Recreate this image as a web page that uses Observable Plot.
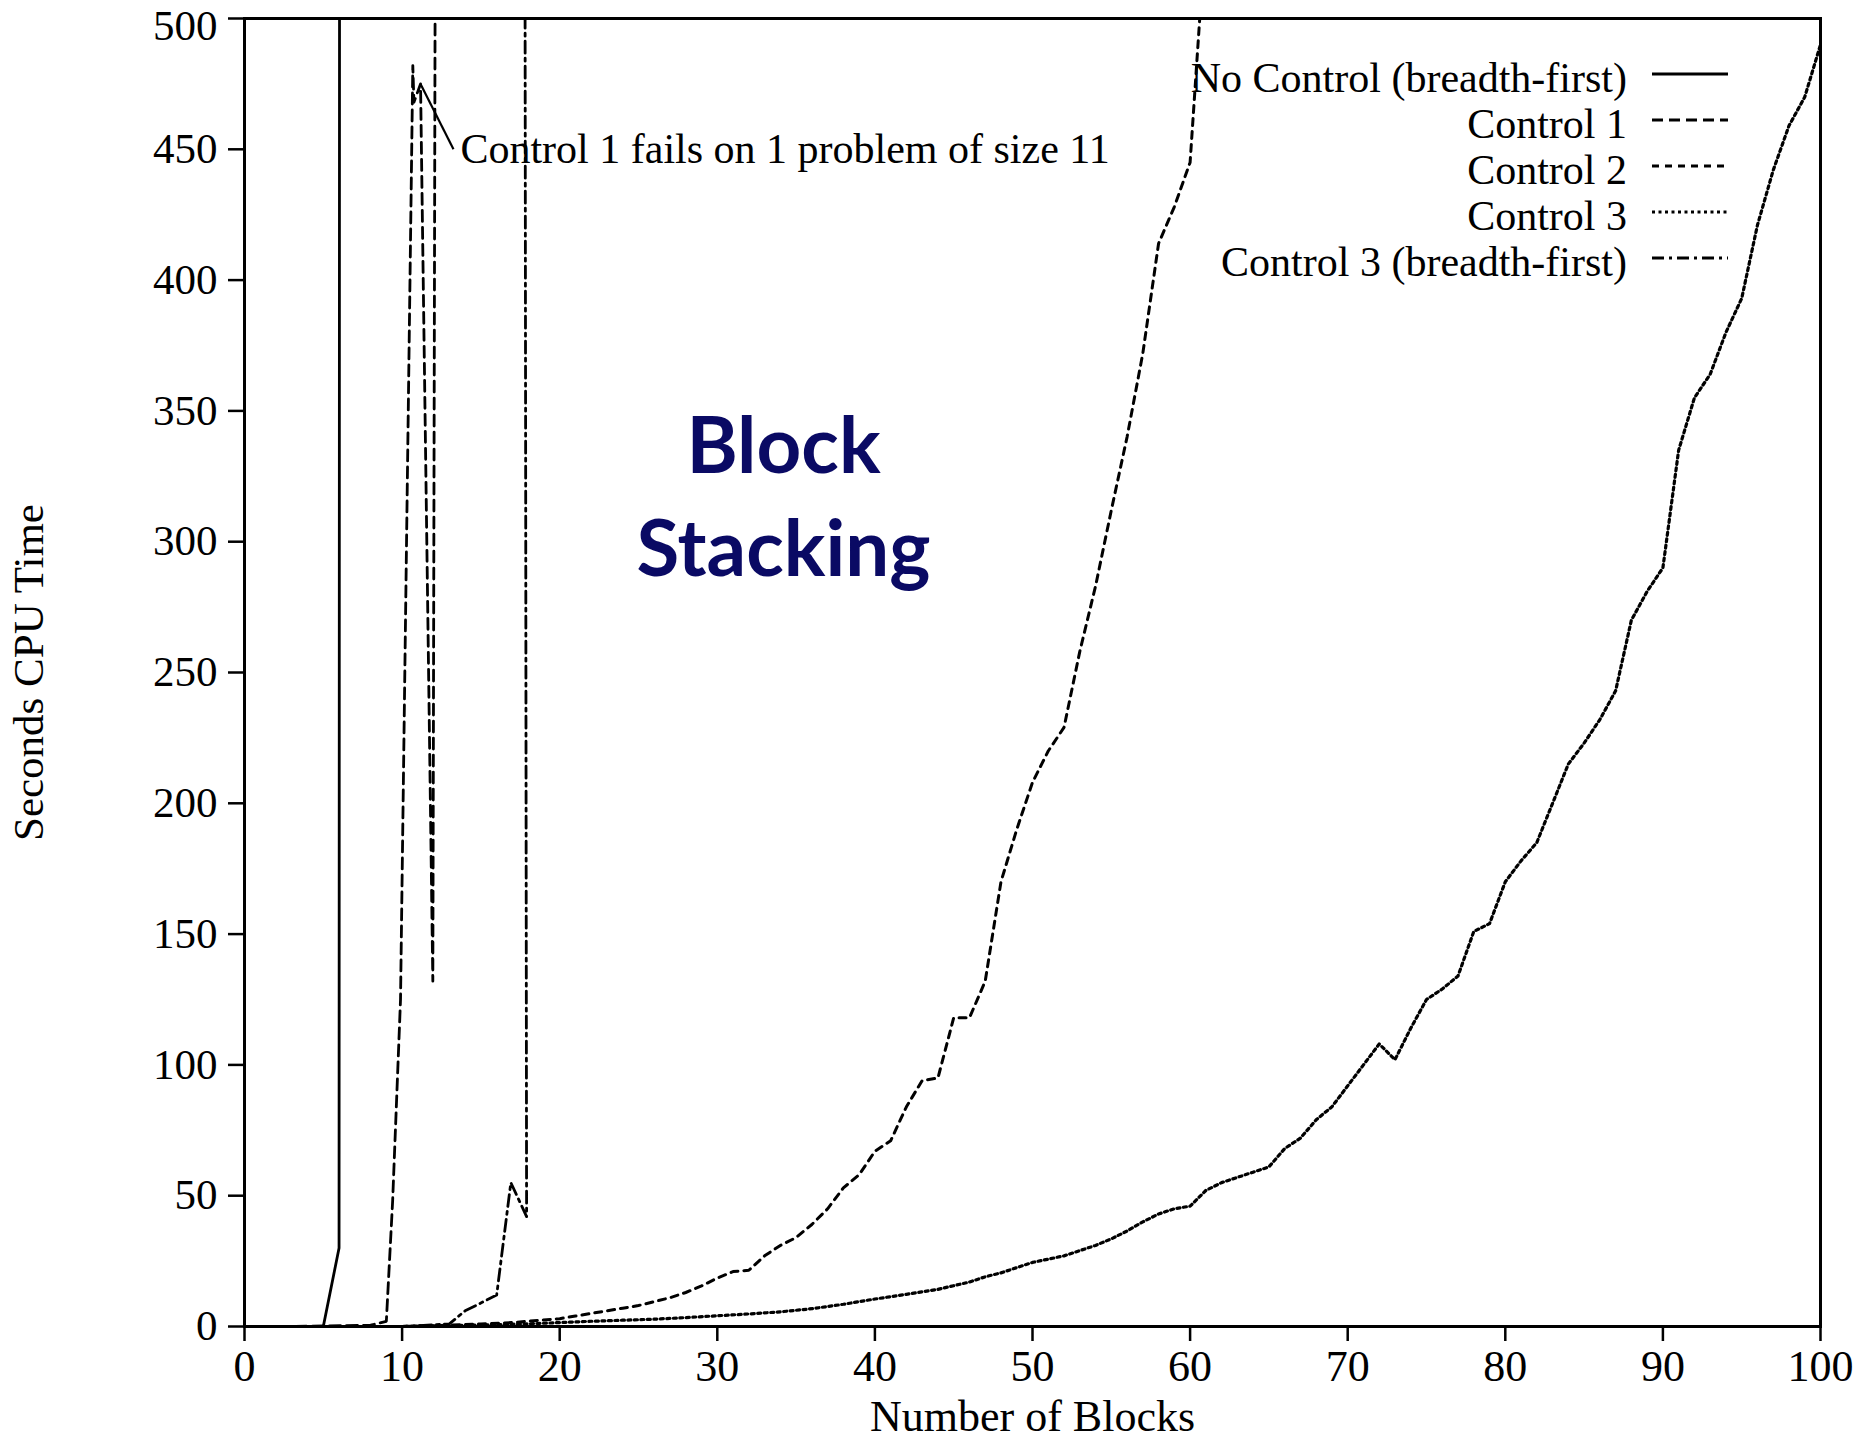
<!DOCTYPE html>
<html>
<head>
<meta charset="utf-8">
<script src="https://cdn.jsdelivr.net/npm/d3@7"></script>
<script src="https://cdn.jsdelivr.net/npm/@observablehq/plot@0.6"></script>
<style>
  body { margin: 0; background: #fff; }
  #chart { position: relative; width: 1863px; height: 1440px; }
  #legend { position: absolute; left: 0; top: 0; pointer-events: none; }
</style>
</head>
<body>
<div id="chart"></div>
<script>
// ---------- data ----------
const seriesNames = [
  "No Control (breadth-first)",
  "Control 1",
  "Control 2",
  "Control 3",
  "Control 3 (breadth-first)"
];

const noControlBlocks = [0, 1, 2, 3, 4, 5, 6, 6.03];
const noControlTime   = [0, 0, 0, 0, 0, 0, 30, 520];

const control1Blocks = [0, 3, 8, 9, 9.4, 9.9, 10.4, 10.68, 10.75, 11.17, 11.95, 12.1];
const control1Time   = [0, 0, 0.5, 2, 48, 125, 354, 482, 468, 475, 132, 520];

const control2Blocks = [0, 10, 13, 15, 17, 18, 20, 21, 22, 23, 24, 25, 26, 27, 28, 29, 30,
  31, 32, 33, 34, 35, 36, 37, 38, 39, 40, 41, 42, 43, 44, 45, 46, 47, 48, 49, 50,
  51, 52, 53, 54, 55, 56, 57, 58, 59, 60, 61];
const control2Time   = [0, 0, 0.5, 1, 1.5, 2, 3, 4, 5, 6, 7, 8, 9.5, 11, 13, 15.5, 18.5,
  21, 21.5, 27, 31, 34, 39, 45, 53, 58, 67, 71, 84, 94, 95, 118, 118, 132, 170, 190, 208,
  220, 229, 258, 283, 312, 340, 372, 414, 428, 445, 535];

const control3Blocks = [0, 10, 13, 15, 18, 20, 22, 24, 26, 28, 30, 32, 34, 36, 38, 40, 42,
  44, 46, 47, 48, 50, 52, 54, 55, 56, 57, 58, 59, 60, 61, 62, 63, 64, 65, 66, 67, 68, 69,
  70, 71, 72, 73, 74, 75, 76, 77, 78, 79, 80, 81, 82, 83, 84, 85, 86, 87, 88, 89, 90, 91,
  92, 93, 94, 95, 96, 97, 98, 99, 100];
const control3Time   = [0, 0, 0.3, 0.6, 1, 1.5, 2, 2.4, 2.8, 3.4, 4.1, 4.8, 5.6, 6.8, 8.5,
  10.5, 12.3, 14.2, 17, 19, 20.5, 24.5, 27, 31, 33.5, 36.5, 40, 43, 45, 46, 52, 55, 57, 59,
  61, 68, 72, 79, 84, 92, 100, 108, 102, 114, 125, 129, 134, 151, 154, 170, 178, 185, 200,
  215, 223, 232, 243, 270, 281, 290, 335, 355, 364, 380, 393, 421, 442, 459, 470, 490];

const control3bfBlocks = [0, 5, 10, 13, 14, 16, 16.9, 17.9, 17.8];
const control3bfTime   = [0, 0, 0, 1, 6, 12, 55, 42, 520];

const xTicks = [0, 10, 20, 30, 40, 50, 60, 70, 80, 90, 100];
const yTicks = [0, 50, 100, 150, 200, 250, 300, 350, 400, 450, 500];

const annotationText = "Control 1 fails on 1 problem of size 11";
const overlayTitle = "Block\nStacking";

// ---------- build tables ----------
const blocksList = [noControlBlocks, control1Blocks, control2Blocks, control3Blocks, control3bfBlocks];
const timesList  = [noControlTime, control1Time, control2Time, control3Time, control3bfTime];
const dashes = [null, "11,6", "7,6", "3,3.5", "12,5,3,5"];
const widths = [2.8, 2.8, 3, 3.2, 2.8];

const tables = seriesNames.map((name, i) =>
  blocksList[i].map((b, j) => ({series: name, blocks: b, time: timesList[i][j]}))
);

const serif = "'Liberation Serif', 'DejaVu Serif', serif";
const yMax = yTicks[yTicks.length - 1];

const lineMarks = tables.map((t, i) =>
  Plot.line(t, {
    x: "blocks", y: "time", stroke: "black", strokeWidth: widths[i],
    strokeDasharray: dashes[i] || undefined, clip: true
  })
);

const chart = Plot.plot({
  width: 1863,
  height: 1440,
  marginLeft: 244,
  marginRight: 43,
  marginTop: 18,
  marginBottom: 114,
  style: {fontFamily: serif, background: "white", color: "black"},
  x: {domain: [0, 100]},
  y: {domain: [0, 500]},
  marks: [
    Plot.axisX({ticks: xTicks, tickSize: 15, tickPadding: 8, fontSize: 44, strokeWidth: 2.5,
      label: "Number of Blocks", labelAnchor: "center", labelOffset: 104, labelArrow: false}),
    Plot.axisY({ticks: yTicks, tickSize: 16, tickPadding: 11, fontSize: 43, strokeWidth: 2.5,
      tickFormat: d => (d === yMax ? "" : String(d)),
      label: "Seconds CPU Time", labelAnchor: "center", labelOffset: 232, labelArrow: false}),
    // top tick label kept just inside the picture
    Plot.axisY({ticks: [yMax], tickSize: 0, tickPadding: 27, fontSize: 43, dy: 8, label: null}),
    Plot.frame({stroke: "black", strokeWidth: 3}),
    ...lineMarks,
    Plot.link([{x1: 11.17, y1: 475, x2: 13.26, y2: 450}],
      {x1: "x1", y1: "y1", x2: "x2", y2: "y2", stroke: "black", strokeWidth: 2.2}),
    Plot.text([annotationText], {x: 13.7, y: 450, text: d => d, textAnchor: "start",
      fontSize: 42, fontFamily: serif, fill: "black"}),
    Plot.text([overlayTitle], {x: 34.2, y: 319, text: d => d, textAnchor: "middle",
      lineAnchor: "middle", lineHeight: 1.32, fontSize: 78, fontWeight: "bold",
      fontFamily: "Lato, 'Open Sans', sans-serif", fill: "#0a0a64"})
  ]
});

const container = document.getElementById("chart");
container.appendChild(chart);

// ---------- legend (top-right, inside the frame) ----------
const legend = d3.select(container).append("svg")
  .attr("id", "legend")
  .attr("width", 1863).attr("height", 1440);

const legendTextRight = 1627, legendLineX1 = 1652, legendLineX2 = 1728;
const legendFirstBaseline = 92, legendStep = 46;

seriesNames.forEach((name, i) => {
  const base = legendFirstBaseline + i * legendStep;
  legend.append("text")
    .attr("x", legendTextRight).attr("y", base)
    .attr("text-anchor", "end")
    .attr("font-family", serif).attr("font-size", 42)
    .attr("fill", "black")
    .text(name);
  legend.append("line")
    .attr("x1", legendLineX1).attr("x2", legendLineX2)
    .attr("y1", base - 18).attr("y2", base - 18)
    .attr("stroke", "black").attr("stroke-width", widths[i])
    .attr("stroke-dasharray", dashes[i] || null);
});
</script>
</body>
</html>
